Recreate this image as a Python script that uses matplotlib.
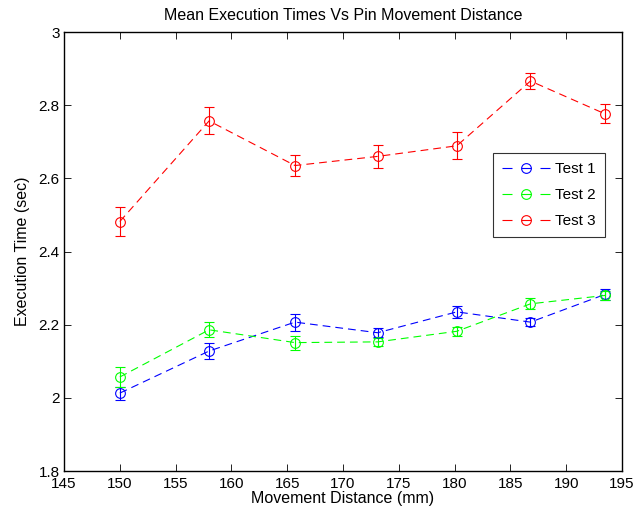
import matplotlib
matplotlib.use("Agg")
import matplotlib.pyplot as plt
from matplotlib.lines import Line2D

plt.rcParams["font.family"] = ["Liberation Sans", "DejaVu Sans"]

distance = [150.0, 158.0, 165.7, 173.1, 180.2, 186.8, 193.5]

test1 = [2.013, 2.128, 2.207, 2.178, 2.235, 2.207, 2.283]
test1_err = [0.018, 0.023, 0.023, 0.013, 0.016, 0.010, 0.015]
test2 = [2.057, 2.186, 2.151, 2.153, 2.182, 2.257, 2.280]
test2_err = [0.027, 0.020, 0.019, 0.010, 0.012, 0.015, 0.012]
test3 = [2.482, 2.757, 2.635, 2.660, 2.689, 2.866, 2.776]
test3_err = [0.040, 0.037, 0.028, 0.031, 0.037, 0.022, 0.026]

series = [
    ("Test 1", test1, test1_err, (0, 0, 1)),
    ("Test 2", test2, test2_err, (0, 1, 0)),
    ("Test 3", test3, test3_err, (1, 0, 0)),
]

fig = plt.figure(figsize=(6.35, 5.18), dpi=100)
ax = fig.add_axes([0.1008, 0.0907, 0.8787, 0.8475])

handles = []
for name, y, err, col in series:
    ax.errorbar(distance, y, yerr=err, color=col, ls=(0, (7, 4.5)), lw=0.8,
                marker="o", ms=7, mfc="none", mec=col, mew=0.8,
                elinewidth=0.8, capsize=3.6, capthick=0.8)
    handles.append(Line2D([], [], color=col, ls=(0, (9, 8.1)), lw=0.8,
                          marker="o", ms=7, mfc="none", mec=col, mew=0.8))

ax.set_xlim(145, 195)
ax.set_ylim(1.8, 3.0)
ax.set_xticks(range(145, 196, 5))
ax.set_yticks([1.8, 2.0, 2.2, 2.4, 2.6, 2.8, 3.0])
ax.set_yticklabels(["1.8", "2", "2.2", "2.4", "2.6", "2.8", "3"])
ax.tick_params(direction="in", length=5, width=0.6, labelsize=11,
               top=True, right=True, pad=3)
ax.tick_params(axis="x", pad=4.2)
for sp in ax.spines.values():
    sp.set_linewidth(1.0)

ax.set_title("Mean Execution Times Vs Pin Movement Distance", fontsize=11.5, pad=9)
ax.set_xlabel("Movement Distance (mm)", fontsize=11.5, labelpad=0)
ax.set_ylabel("Execution Time (sec)", fontsize=11.5, labelpad=6)

leg = ax.legend(handles, ["Test 1", "Test 2", "Test 3"], loc="upper left",
                bbox_to_anchor=(0.769, 0.724), borderaxespad=0, fontsize=11,
                frameon=True, fancybox=False, edgecolor="black",
                handlelength=3.14, borderpad=0.6, labelspacing=0.78,
                handletextpad=0.33)
leg.get_frame().set_linewidth(0.8)

fig.savefig("out.png", dpi=100)
